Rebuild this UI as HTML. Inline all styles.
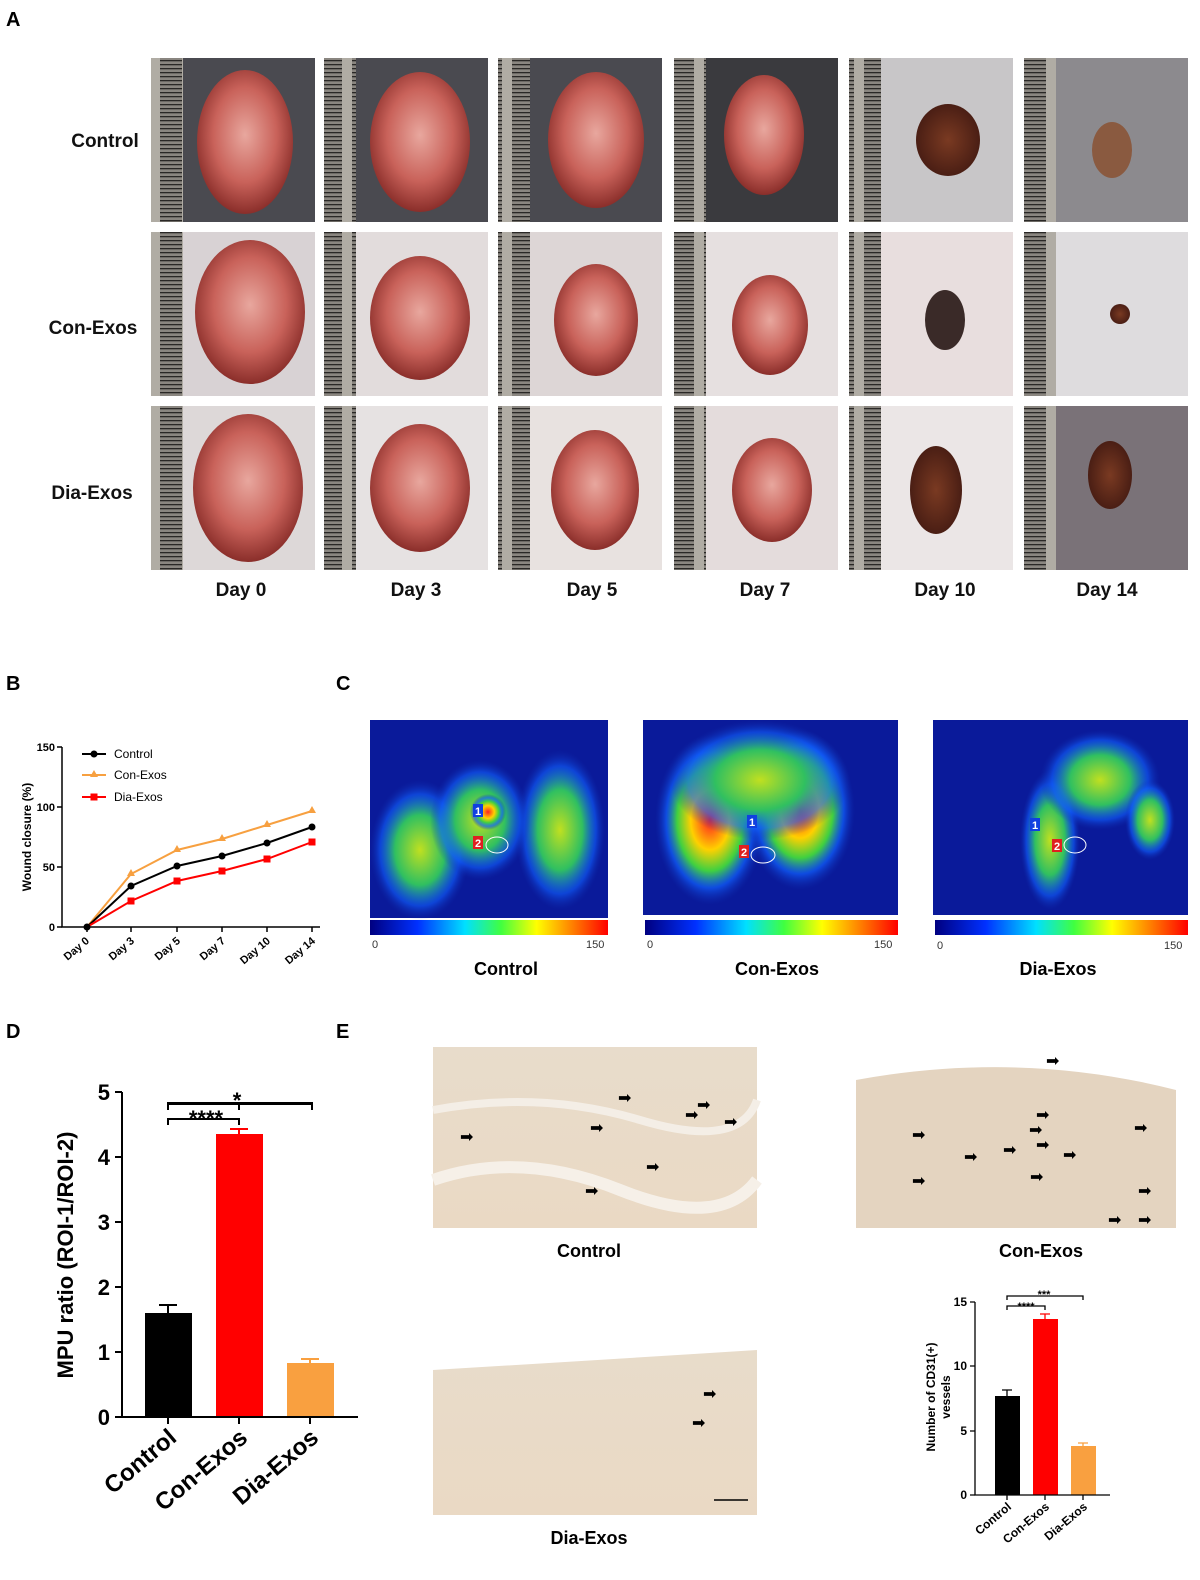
<!DOCTYPE html>
<html><head><meta charset="utf-8"><style>
body{margin:0;background:#fff;width:1200px;height:1575px;overflow:hidden;font-family:"Liberation Sans",Arial,sans-serif}
</style></head><body>
<svg width="1200" height="1575" xmlns="http://www.w3.org/2000/svg" font-family="Liberation Sans, Arial, sans-serif">
<defs>
<pattern id="ruler" width="32" height="4" patternUnits="userSpaceOnUse"><rect width="32" height="4" fill="#8a8680"/><rect y="0" width="22" height="1.3" fill="#2a2826"/><rect x="22" width="10" height="4" fill="#b0aca4"/></pattern>
<radialGradient id="wound" cx="50%" cy="45%" r="55%"><stop offset="0" stop-color="#e8a79e"/><stop offset="0.6" stop-color="#c9625a"/><stop offset="1" stop-color="#8a2e2a"/></radialGradient>
<radialGradient id="scab" cx="50%" cy="50%" r="50%"><stop offset="0" stop-color="#7a3a22"/><stop offset="1" stop-color="#4a1e14"/></radialGradient>
<radialGradient id="hot" cx="50%" cy="50%" r="50%"><stop offset="0" stop-color="#ff2020"/><stop offset="0.35" stop-color="#ffd000"/><stop offset="0.6" stop-color="#40d040"/><stop offset="0.8" stop-color="#1060ff" stop-opacity="0.7"/><stop offset="1" stop-color="#1030b0" stop-opacity="0"/></radialGradient>
<radialGradient id="warm" cx="50%" cy="50%" r="50%"><stop offset="0" stop-color="#c0e020"/><stop offset="0.5" stop-color="#30c060"/><stop offset="0.8" stop-color="#1060ff" stop-opacity="0.6"/><stop offset="1" stop-color="#1030b0" stop-opacity="0"/></radialGradient>
<linearGradient id="cbar" x1="0" x2="1"><stop offset="0" stop-color="#000080"/><stop offset="0.2" stop-color="#0030ff"/><stop offset="0.4" stop-color="#00e0ff"/><stop offset="0.55" stop-color="#40ff40"/><stop offset="0.7" stop-color="#ffff00"/><stop offset="0.85" stop-color="#ff8000"/><stop offset="1" stop-color="#ff0000"/></linearGradient>
<linearGradient id="tissue" x1="0" y1="0" x2="0" y2="1"><stop offset="0" stop-color="#e8dccb"/><stop offset="1" stop-color="#ead9c4"/></linearGradient>
</defs>
<g font-weight="bold" font-size="20" fill="#000">
<text x="6" y="26">A</text><text x="6" y="690">B</text><text x="336" y="690">C</text><text x="6" y="1038">D</text><text x="336" y="1038">E</text>
</g>
<!-- Panel A photos -->
<g id="photos">
<!-- row backgrounds -->
<g>
<rect x="151" y="58" width="164" height="164" fill="#4a4a50"/><rect x="324" y="58" width="164" height="164" fill="#4a4a50"/><rect x="498" y="58" width="164" height="164" fill="#4a4a50"/><rect x="674" y="58" width="164" height="164" fill="#3a3a3e"/><rect x="849" y="58" width="164" height="164" fill="#c8c6c8"/><rect x="1024" y="58" width="164" height="164" fill="#8c8a8e"/>
<rect x="151" y="232" width="164" height="164" fill="#d8d2d4"/><rect x="324" y="232" width="164" height="164" fill="#e2dcdc"/><rect x="498" y="232" width="164" height="164" fill="#ddd6d6"/><rect x="674" y="232" width="164" height="164" fill="#e6e0e0"/><rect x="849" y="232" width="164" height="164" fill="#e8dede"/><rect x="1024" y="232" width="164" height="164" fill="#dedcde"/>
<rect x="151" y="406" width="164" height="164" fill="#ddd8d8"/><rect x="324" y="406" width="164" height="164" fill="#e6e2e2"/><rect x="498" y="406" width="164" height="164" fill="#e8e2e0"/><rect x="674" y="406" width="164" height="164" fill="#e4dcdc"/><rect x="849" y="406" width="164" height="164" fill="#ebe6e6"/><rect x="1024" y="406" width="164" height="164" fill="#7a7278"/>
</g>
<g fill="url(#ruler)">
<rect x="151" y="58" width="32" height="164"/><rect x="324" y="58" width="32" height="164"/><rect x="498" y="58" width="32" height="164"/><rect x="674" y="58" width="32" height="164"/><rect x="849" y="58" width="32" height="164"/><rect x="1024" y="58" width="32" height="164"/>
<rect x="151" y="232" width="32" height="164"/><rect x="324" y="232" width="32" height="164"/><rect x="498" y="232" width="32" height="164"/><rect x="674" y="232" width="32" height="164"/><rect x="849" y="232" width="32" height="164"/><rect x="1024" y="232" width="32" height="164"/>
<rect x="151" y="406" width="32" height="164"/><rect x="324" y="406" width="32" height="164"/><rect x="498" y="406" width="32" height="164"/><rect x="674" y="406" width="32" height="164"/><rect x="849" y="406" width="32" height="164"/><rect x="1024" y="406" width="32" height="164"/>
</g>
<g fill="url(#wound)">
<ellipse cx="245" cy="142" rx="48" ry="72"/><ellipse cx="420" cy="142" rx="50" ry="70"/><ellipse cx="596" cy="140" rx="48" ry="68"/><ellipse cx="764" cy="135" rx="40" ry="60"/>
<ellipse cx="250" cy="312" rx="55" ry="72"/><ellipse cx="420" cy="318" rx="50" ry="62"/><ellipse cx="596" cy="320" rx="42" ry="56"/><ellipse cx="770" cy="325" rx="38" ry="50"/>
<ellipse cx="248" cy="488" rx="55" ry="74"/><ellipse cx="420" cy="488" rx="50" ry="64"/><ellipse cx="595" cy="490" rx="44" ry="60"/><ellipse cx="772" cy="490" rx="40" ry="52"/>
</g>
<g fill="url(#scab)">
<ellipse cx="948" cy="140" rx="32" ry="36"/><ellipse cx="1112" cy="150" rx="20" ry="28" fill="#8a5a40"/>
<ellipse cx="945" cy="320" rx="20" ry="30" fill="#3a2a28"/><ellipse cx="1120" cy="314" rx="10" ry="10"/>
<ellipse cx="936" cy="490" rx="26" ry="44"/><ellipse cx="1110" cy="475" rx="22" ry="34"/>
</g>
</g>
<g font-weight="bold" font-size="19" text-anchor="middle" fill="#111">
<text x="105" y="147">Control</text><text x="93" y="334">Con-Exos</text><text x="92" y="499">Dia-Exos</text>
<text x="241" y="596">Day 0</text><text x="416" y="596">Day 3</text><text x="592" y="596">Day 5</text><text x="765" y="596">Day 7</text><text x="945" y="596">Day 10</text><text x="1107" y="596">Day 14</text>
</g>
<!-- Panel B -->
<g stroke="#000" stroke-width="1.5" fill="none">
<path d="M62 747 V927 H320"/>
<path d="M57 747H62M57 807H62M57 867H62M57 927H62"/>
<path d="M87 927v5M131 927v5M177 927v5M222 927v5M267 927v5M312 927v5"/>
</g>
<g font-size="11" font-weight="bold" text-anchor="end">
<text x="55" y="751">150</text><text x="55" y="811">100</text><text x="55" y="871">50</text><text x="55" y="931">0</text>
</g>
<g font-size="11" font-weight="bold" text-anchor="end">
<text transform="translate(90,942) rotate(-40)">Day 0</text><text transform="translate(135,942) rotate(-40)">Day 3</text><text transform="translate(181,942) rotate(-40)">Day 5</text><text transform="translate(226,942) rotate(-40)">Day 7</text><text transform="translate(271,942) rotate(-40)">Day 10</text><text transform="translate(316,942) rotate(-40)">Day 14</text>
</g>
<text transform="translate(31,837) rotate(-90)" font-size="12" font-weight="bold" text-anchor="middle">Wound closure (%)</text>
<polyline points="87,927 131,874 177,850 222,839 267,825 312,811" fill="none" stroke="#f7a040" stroke-width="2"/>
<polyline points="87,927 131,886 177,866 222,856 267,843 312,827" fill="none" stroke="#000" stroke-width="2"/>
<polyline points="87,927 131,901 177,881 222,871 267,859 312,842" fill="none" stroke="#f00" stroke-width="2"/>
<g fill="#f7a040"><path d="M131 869l4 7h-8z M177 845l4 7h-8z M222 834l4 7h-8z M267 820l4 7h-8z M312 806l4 7h-8z"/></g>
<g fill="#000"><circle cx="131" cy="886" r="3.5"/><circle cx="177" cy="866" r="3.5"/><circle cx="222" cy="856" r="3.5"/><circle cx="267" cy="843" r="3.5"/><circle cx="312" cy="827" r="3.5"/><circle cx="87" cy="927" r="3.5"/></g>
<g fill="#f00"><rect x="127.5" y="897.5" width="7" height="7"/><rect x="173.5" y="877.5" width="7" height="7"/><rect x="218.5" y="867.5" width="7" height="7"/><rect x="263.5" y="855.5" width="7" height="7"/><rect x="308.5" y="838.5" width="7" height="7"/></g>
<g font-size="12">
<line x1="82" y1="754" x2="106" y2="754" stroke="#000" stroke-width="2"/><circle cx="94" cy="754" r="3.5"/><text x="114" y="758">Control</text>
<line x1="82" y1="775" x2="106" y2="775" stroke="#f7a040" stroke-width="2"/><path d="M94 770l4 7h-8z" fill="#f7a040"/><text x="114" y="779">Con-Exos</text>
<line x1="82" y1="797" x2="106" y2="797" stroke="#f00" stroke-width="2"/><rect x="90.5" y="793.5" width="7" height="7" fill="#f00"/><text x="114" y="801">Dia-Exos</text>
</g>
<!-- Panel C -->
<g>
<rect x="370" y="720" width="238" height="198" fill="#0a1a9a"/>
<ellipse cx="420" cy="850" rx="50" ry="70" fill="url(#warm)"/><ellipse cx="560" cy="830" rx="45" ry="80" fill="url(#warm)"/><ellipse cx="480" cy="820" rx="50" ry="60" fill="url(#warm)"/><ellipse cx="488" cy="812" rx="18" ry="18" fill="url(#hot)"/>
<rect x="643" y="720" width="255" height="195" fill="#0a1a9a"/>
<ellipse cx="710" cy="820" rx="55" ry="85" fill="url(#hot)"/><ellipse cx="800" cy="810" rx="55" ry="80" fill="url(#hot)"/><ellipse cx="760" cy="780" rx="90" ry="60" fill="url(#warm)"/>
<rect x="933" y="720" width="255" height="195" fill="#0a1a9a"/>
<ellipse cx="1050" cy="840" rx="30" ry="70" fill="url(#warm)"/><ellipse cx="1100" cy="780" rx="60" ry="50" fill="url(#warm)"/><ellipse cx="1150" cy="820" rx="25" ry="40" fill="url(#warm)"/>
<rect x="370" y="920" width="238" height="15" fill="url(#cbar)"/><rect x="645" y="920" width="253" height="15" fill="url(#cbar)"/><rect x="935" y="920" width="253" height="15" fill="url(#cbar)"/>
<g font-size="11" fill="#333"><text x="372" y="948">0</text><text x="586" y="948">150</text><text x="647" y="948">0</text><text x="874" y="948">150</text><text x="937" y="949">0</text><text x="1164" y="949">150</text></g>
<g font-size="11" fill="#fff" font-weight="bold"><rect x="473" y="804" width="10" height="13" fill="#1040e0"/><text x="475" y="815">1</text><rect x="473" y="836" width="10" height="13" fill="#e02020"/><text x="475" y="847">2</text>
<rect x="747" y="815" width="10" height="13" fill="#1040e0"/><text x="749" y="826">1</text><rect x="739" y="845" width="10" height="13" fill="#e02020"/><text x="741" y="856">2</text>
<rect x="1030" y="818" width="10" height="13" fill="#1040e0"/><text x="1032" y="829">1</text><rect x="1052" y="839" width="10" height="13" fill="#e02020"/><text x="1054" y="850">2</text></g>
<g fill="none" stroke="#fff"><ellipse cx="497" cy="845" rx="11" ry="8"/><ellipse cx="763" cy="855" rx="12" ry="8"/><ellipse cx="1075" cy="845" rx="11" ry="8"/></g>
<g font-size="18" font-weight="bold" text-anchor="middle"><text x="506" y="975">Control</text><text x="777" y="975">Con-Exos</text><text x="1058" y="975">Dia-Exos</text></g>
</g>
<!-- Panel D -->
<rect x="145" y="1313" width="47" height="104" fill="#000"/>
<rect x="216" y="1134" width="47" height="283" fill="#f00"/>
<rect x="287" y="1363" width="47" height="54" fill="#f9a040"/>
<g stroke="#000" stroke-width="2" fill="none">
<path d="M168 1313v-9M159 1305h18"/><path d="M239 1134v-5M230 1129h18" stroke="#f00"/><path d="M310 1363v-4M301 1359h18" stroke="#f9a040"/>
<path d="M122 1092V1417H358"/>
<path d="M115 1092h7M115 1157h7M115 1222h7M115 1287h7M115 1352h7M115 1417h7"/>
<path d="M168 1417v7M239 1417v7M310 1417v7"/>
<path d="M168 1110v-7H239v7M168 1110v-7" /><path d="M168 1110V1103H312v7" transform="translate(0,-0)"/>
</g>
<g stroke="#000" stroke-width="2" fill="none"><path d="M168 1125v-6H239v6"/><path d="M168 1110v-6H312v6"/></g>
<text x="206" y="1126" font-size="22" font-weight="bold" text-anchor="middle">****</text>
<text x="237" y="1108" font-size="22" font-weight="bold" text-anchor="middle">*</text>
<g font-size="22" font-weight="bold" text-anchor="end"><text x="110" y="1100">5</text><text x="110" y="1165">4</text><text x="110" y="1230">3</text><text x="110" y="1295">2</text><text x="110" y="1360">1</text><text x="110" y="1425">0</text></g>
<text transform="translate(73,1255) rotate(-90)" font-size="22" font-weight="bold" text-anchor="middle">MPU ratio (ROI-1/ROI-2)</text>
<g font-size="24" font-weight="bold" text-anchor="end"><text transform="translate(178,1440) rotate(-40)">Control</text><text transform="translate(249,1440) rotate(-40)">Con-Exos</text><text transform="translate(320,1440) rotate(-40)">Dia-Exos</text></g>
<!-- Panel E -->
<rect x="433" y="1047" width="324" height="181" fill="url(#tissue)"/>
<path d="M433 1180 Q520 1150 620 1190 T757 1180" stroke="#f6f0e8" stroke-width="12" fill="none"/>
<path d="M433 1110 Q540 1090 640 1120 T757 1100" stroke="#f4eee6" stroke-width="8" fill="none"/>
<rect x="856" y="1047" width="320" height="181" fill="#e4d4c0"/>
<path d="M856 1047 H1176 V1090 Q1020 1050 856 1080Z" fill="#fff"/>
<rect x="433" y="1334" width="324" height="181" fill="url(#tissue)"/>
<path d="M433 1334 H757 V1350 Q600 1360 433 1370Z" fill="#fff"/>
<line x1="714" y1="1500" x2="748" y2="1500" stroke="#000" stroke-width="1.5"/>
<g font-size="16" fill="#000">
<text x="460" y="1142">➡</text><text x="590" y="1133">➡</text><text x="618" y="1103">➡</text><text x="697" y="1110">➡</text><text x="685" y="1120">➡</text><text x="724" y="1127">➡</text><text x="646" y="1172">➡</text><text x="585" y="1196">➡</text>
<text x="1046" y="1066">➡</text><text x="1036" y="1120">➡</text><text x="1029" y="1135">➡</text><text x="1036" y="1150">➡</text><text x="1063" y="1160">➡</text><text x="964" y="1162">➡</text><text x="1003" y="1155">➡</text><text x="1030" y="1182">➡</text><text x="912" y="1140">➡</text><text x="912" y="1186">➡</text><text x="1134" y="1133">➡</text><text x="1138" y="1196">➡</text><text x="1108" y="1225">➡</text><text x="1138" y="1225">➡</text>
<text x="703" y="1399">➡</text><text x="692" y="1428">➡</text>
</g>
<g font-size="18" font-weight="bold" text-anchor="middle"><text x="589" y="1257">Control</text><text x="1041" y="1257">Con-Exos</text><text x="589" y="1544">Dia-Exos</text></g>
<rect x="995" y="1396" width="25" height="99" fill="#000"/>
<rect x="1033" y="1319" width="25" height="176" fill="#f00"/>
<rect x="1071" y="1446" width="25" height="49" fill="#f9a040"/>
<g stroke="#000" stroke-width="1.3" fill="none">
<path d="M1007 1396v-6M1002 1390h10"/><path d="M1045 1319v-5M1040 1314h10" stroke="#f00"/><path d="M1083 1446v-3M1078 1443h10" stroke="#f9a040"/>
<path d="M975 1302V1495H1110"/>
<path d="M970 1302h5M970 1366h5M970 1431h5M970 1495h5"/>
<path d="M1007 1495v5M1045 1495v5M1083 1495v5"/>
<path d="M1007 1310v-4H1045v4"/><path d="M1007 1300v-4H1083v4"/>
</g>
<g font-size="11" font-weight="bold" text-anchor="middle"><text x="1026" y="1310">****</text><text x="1044" y="1298">***</text></g>
<g font-size="12" font-weight="bold" text-anchor="end"><text x="967" y="1306">15</text><text x="967" y="1370">10</text><text x="967" y="1435">5</text><text x="967" y="1499">0</text></g>
<text transform="translate(935,1397) rotate(-90)" font-size="12" font-weight="bold" text-anchor="middle">Number of CD31(+)</text>
<text transform="translate(950,1397) rotate(-90)" font-size="12" font-weight="bold" text-anchor="middle">vessels</text>
<g font-size="12" font-weight="bold" text-anchor="end"><text transform="translate(1012,1508) rotate(-40)">Control</text><text transform="translate(1050,1508) rotate(-40)">Con-Exos</text><text transform="translate(1088,1508) rotate(-40)">Dia-Exos</text></g>
</svg>
</body></html>
